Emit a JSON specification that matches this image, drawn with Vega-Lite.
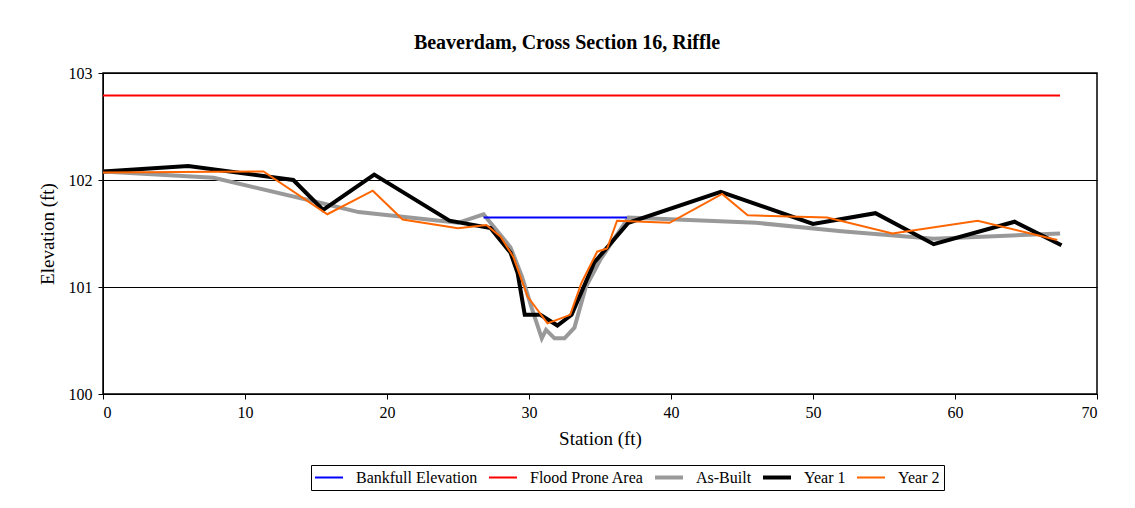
{
  "$schema": "https://vega.github.io/schema/vega-lite/v6.json",
  "autosize": {"type": "none"},
  "padding": {"left": 103, "top": 73, "right": 38, "bottom": 114},
  "width": 994,
  "height": 321,
  "background": "white",
  "title": {"text": "Beaverdam, Cross Section 16, Riffle", "font": "Liberation Serif", "fontSize": 20, "fontWeight": "bold", "color": "black", "anchor": "middle", "dx": -33, "offset": 12},
  "config": {
    "view": {"stroke": "black", "strokeWidth": 1.5},
    "axis": {"labelFont": "Liberation Serif", "titleFont": "Liberation Serif", "labelFontSize": 16, "titleFontSize": 19, "titleFontWeight": "normal", "labelColor": "black", "titleColor": "black", "domainColor": "black", "tickColor": "black", "tickSize": 5, "gridColor": "black", "gridWidth": 1, "gridOpacity": 1},
    "legend": {"strokeColor": "black", "padding": 4}
  },
  "data": {"values": [
    {"series": "Flood Prone Area", "station": 0, "elev": 102.79},
    {"series": "Flood Prone Area", "station": 67.4, "elev": 102.79},
    {"series": "Bankfull Elevation", "station": 26.8, "elev": 101.65},
    {"series": "Bankfull Elevation", "station": 36.9, "elev": 101.65},
    {"series": "As-Built", "station": 0, "elev": 102.08},
    {"series": "As-Built", "station": 7.8, "elev": 102.02},
    {"series": "As-Built", "station": 15.5, "elev": 101.78},
    {"series": "As-Built", "station": 18, "elev": 101.7},
    {"series": "As-Built", "station": 25, "elev": 101.6},
    {"series": "As-Built", "station": 26.8, "elev": 101.68},
    {"series": "As-Built", "station": 28.7, "elev": 101.37},
    {"series": "As-Built", "station": 29.5, "elev": 101.1},
    {"series": "As-Built", "station": 30.2, "elev": 100.8},
    {"series": "As-Built", "station": 30.9, "elev": 100.52},
    {"series": "As-Built", "station": 31.2, "elev": 100.6},
    {"series": "As-Built", "station": 31.8, "elev": 100.52},
    {"series": "As-Built", "station": 32.5, "elev": 100.52},
    {"series": "As-Built", "station": 33.2, "elev": 100.62},
    {"series": "As-Built", "station": 34, "elev": 101.0},
    {"series": "As-Built", "station": 35, "elev": 101.25},
    {"series": "As-Built", "station": 37, "elev": 101.65},
    {"series": "As-Built", "station": 46, "elev": 101.6},
    {"series": "As-Built", "station": 52, "elev": 101.52},
    {"series": "As-Built", "station": 58.5, "elev": 101.45},
    {"series": "As-Built", "station": 67.4, "elev": 101.5},
    {"series": "Year 1", "station": 0, "elev": 102.08},
    {"series": "Year 1", "station": 6.0, "elev": 102.13},
    {"series": "Year 1", "station": 13.4, "elev": 102.0},
    {"series": "Year 1", "station": 15.5, "elev": 101.72},
    {"series": "Year 1", "station": 19.1, "elev": 102.05},
    {"series": "Year 1", "station": 24.4, "elev": 101.62},
    {"series": "Year 1", "station": 27.3, "elev": 101.55},
    {"series": "Year 1", "station": 28.7, "elev": 101.32},
    {"series": "Year 1", "station": 29.2, "elev": 101.13},
    {"series": "Year 1", "station": 29.7, "elev": 100.74},
    {"series": "Year 1", "station": 30.8, "elev": 100.74},
    {"series": "Year 1", "station": 32.0, "elev": 100.64},
    {"series": "Year 1", "station": 33.0, "elev": 100.74},
    {"series": "Year 1", "station": 34.6, "elev": 101.23},
    {"series": "Year 1", "station": 37.0, "elev": 101.6},
    {"series": "Year 1", "station": 43.5, "elev": 101.89},
    {"series": "Year 1", "station": 50.0, "elev": 101.59},
    {"series": "Year 1", "station": 54.4, "elev": 101.69},
    {"series": "Year 1", "station": 58.5, "elev": 101.4},
    {"series": "Year 1", "station": 64.2, "elev": 101.61},
    {"series": "Year 1", "station": 67.5, "elev": 101.39},
    {"series": "Year 2", "station": 0, "elev": 102.07},
    {"series": "Year 2", "station": 11.3, "elev": 102.08},
    {"series": "Year 2", "station": 15.8, "elev": 101.68},
    {"series": "Year 2", "station": 19.0, "elev": 101.9},
    {"series": "Year 2", "station": 21.1, "elev": 101.63},
    {"series": "Year 2", "station": 25.0, "elev": 101.55},
    {"series": "Year 2", "station": 27.0, "elev": 101.58},
    {"series": "Year 2", "station": 28.0, "elev": 101.47},
    {"series": "Year 2", "station": 28.9, "elev": 101.28},
    {"series": "Year 2", "station": 29.9, "elev": 100.91},
    {"series": "Year 2", "station": 31.3, "elev": 100.66},
    {"series": "Year 2", "station": 32.9, "elev": 100.74},
    {"series": "Year 2", "station": 33.7, "elev": 101.04},
    {"series": "Year 2", "station": 34.8, "elev": 101.33},
    {"series": "Year 2", "station": 35.5, "elev": 101.36},
    {"series": "Year 2", "station": 36.2, "elev": 101.62},
    {"series": "Year 2", "station": 39.9, "elev": 101.6},
    {"series": "Year 2", "station": 43.6, "elev": 101.87},
    {"series": "Year 2", "station": 45.4, "elev": 101.67},
    {"series": "Year 2", "station": 51.0, "elev": 101.65},
    {"series": "Year 2", "station": 55.6, "elev": 101.5},
    {"series": "Year 2", "station": 61.6, "elev": 101.62},
    {"series": "Year 2", "station": 67.2, "elev": 101.44}
  ]},
  "encoding": {
    "x": {"field": "station", "type": "quantitative", "scale": {"domain": [0, 70], "nice": false}, "axis": {"title": "Station (ft)", "values": [0, 10, 20, 30, 40, 50, 60, 70], "grid": false, "labelPadding": 5, "titlePadding": 9}},
    "y": {"field": "elev", "type": "quantitative", "scale": {"domain": [100, 103], "nice": false}, "axis": {"title": "Elevation (ft)", "values": [100, 101, 102, 103], "grid": true, "format": "d", "labelPadding": 6, "titlePadding": 11}},
    "color": {"field": "series", "type": "nominal", "scale": {"domain": ["Bankfull Elevation", "Flood Prone Area", "As-Built", "Year 1", "Year 2"], "range": ["#0000FF", "#FF0000", "#999999", "#000000", "#FF6600"]},
      "legend": {"title": null, "orient": "none", "legendX": 208, "legendY": 392, "direction": "horizontal", "columns": 5, "symbolType": "stroke", "symbolSize": 1600, "clipHeight": 17, "labelFont": "Liberation Serif", "labelFontSize": 16, "labelColor": "black", "strokeColor": "black", "columnPadding": 11, "symbolOffset": 0, "labelOffset": 25,
        "encode": {"symbols": {"update": {"strokeWidth": {"signal": "datum.value === 'As-Built' || datum.value === 'Year 1' ? 4 : 2"}}}}}}
  },
  "layer": [
    {"transform": [{"filter": "datum.series === 'Flood Prone Area'"}], "mark": {"type": "line", "clip": true, "strokeWidth": 2}},
    {"transform": [{"filter": "datum.series === 'As-Built'"}], "mark": {"type": "line", "clip": true, "strokeWidth": 4}},
    {"transform": [{"filter": "datum.series === 'Bankfull Elevation'"}], "mark": {"type": "line", "clip": true, "strokeWidth": 2}},
    {"transform": [{"filter": "datum.series === 'Year 1'"}], "mark": {"type": "line", "clip": true, "strokeWidth": 4}},
    {"transform": [{"filter": "datum.series === 'Year 2'"}], "mark": {"type": "line", "clip": true, "strokeWidth": 2}}
  ]
}
